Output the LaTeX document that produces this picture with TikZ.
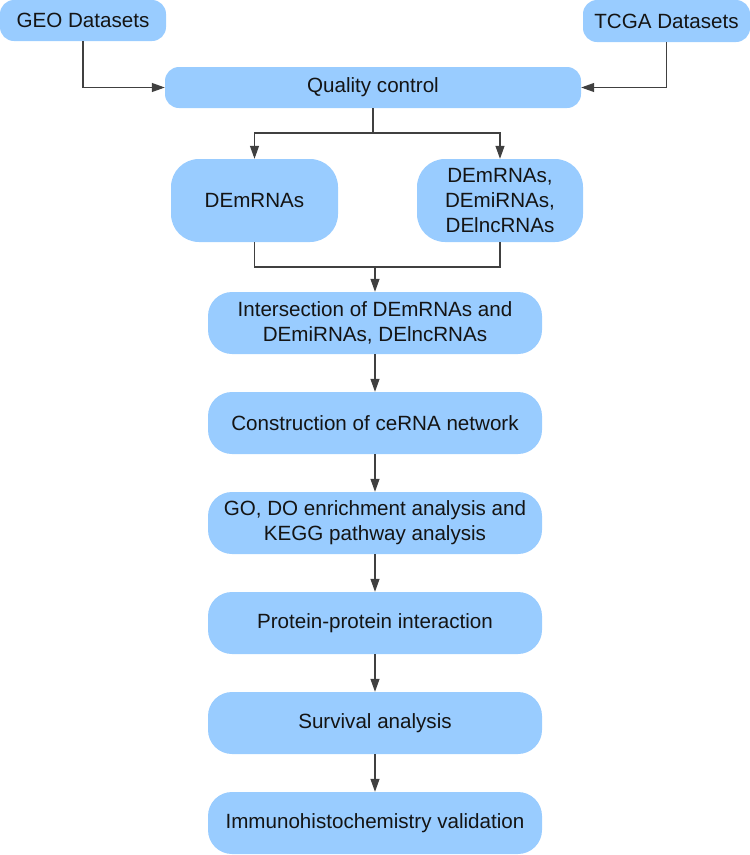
\documentclass[tikz,border=0pt]{standalone}
\usepackage{fontspec}
\setmainfont{Liberation Sans}
\usetikzlibrary{arrows.meta}
\definecolor{boxblue}{RGB}{153,204,255}
\definecolor{linegray}{RGB}{64,64,64}
\definecolor{txt}{RGB}{20,20,20}
\tikzset{
  box/.style={draw=none, fill=boxblue, rectangle, rounded corners=#1, inner sep=0pt,
    align=center, text=txt, font=\fontsize{20.6}{25}\selectfont},
  box/.default=24pt,
  conn/.style={draw=linegray, line width=1.2pt},
  arr/.style={conn, -{Triangle[length=13pt,width=9pt]}}
}
\begin{document}
\begin{tikzpicture}[x=1pt,y=-1pt]
\useasboundingbox (0,0) rectangle (750,855);
\node[box=14pt, minimum width=166pt, minimum height=41pt] (geo) at (83,20.5) {GEO Datasets};
\node[box=14pt, minimum width=167pt, minimum height=42pt] (tcga) at (666.5,21) {TCGA Datasets};
\node[box=14pt, minimum width=416pt, minimum height=41pt] (qc) at (373,87.5) {Quality control};
\node[box=28pt, minimum width=167pt, minimum height=83pt] (dem) at (254.5,200.5) {DEmRNAs};
\node[box=28pt, minimum width=166pt, minimum height=83pt] (deall) at (500,200.5) {DEmRNAs,\\DEmiRNAs,\\DElncRNAs};
\node[box, minimum width=334pt, minimum height=62pt] (inter) at (375,323) {Intersection of DEmRNAs and\\DEmiRNAs, DElncRNAs};
\node[box, minimum width=334pt, minimum height=62pt] (cerna) at (375,423) {Construction of ceRNA network};
\node[box, minimum width=334pt, minimum height=62pt] (go) at (375,523) {GO, DO enrichment analysis and\\KEGG pathway analysis};
\node[box, minimum width=334pt, minimum height=62pt] (ppi) at (375,623) {Protein-protein interaction};
\node[box, minimum width=334pt, minimum height=62pt] (surv) at (375,723) {Survival analysis};
\node[box, minimum width=334pt, minimum height=62pt] (ihc) at (375,823) {Immunohistochemistry validation};
\coordinate (split) at (373,133);
\coordinate (join) at (375,267);
\draw[arr] (geo.south) |- (qc.west);
\draw[arr] (tcga.south) |- (qc.east);
\draw[conn] (qc.south) -- (split);
\draw[arr] (split) -| (dem.north);
\draw[arr] (split) -| (deall.north);
\draw[conn] (dem.south) |- (join);
\draw[conn] (deall.south) |- (join);
\draw[arr] (join) -- (inter.north);
\draw[arr] (inter) -- (cerna);
\draw[arr] (cerna) -- (go);
\draw[arr] (go) -- (ppi);
\draw[arr] (ppi) -- (surv);
\draw[arr] (surv) -- (ihc);
\end{tikzpicture}
\end{document}
